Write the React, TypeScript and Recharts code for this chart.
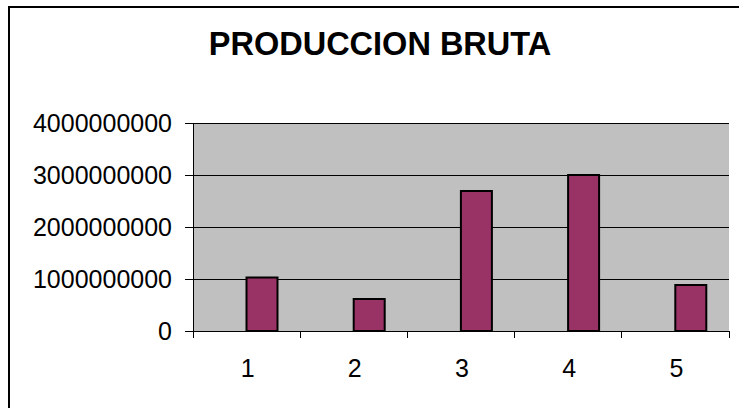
import React from "react";
import { BarChart, Bar, XAxis, YAxis, CartesianGrid, Rectangle } from "recharts";

const categories = ["1", "2", "3", "4", "5"];
const produccion = [1030000000, 615000000, 2690000000, 3000000000, 885000000];
const yTicks = [0, 1000000000, 2000000000, 3000000000, 4000000000];

const data = categories.map((c, i) => ({ name: c, valor: produccion[i] }));

const FONT = "'Liberation Sans', Arial, sans-serif";
const BAND = (729 - 193) / categories.length; // width of one category

// ticks sit between categories, labels in the middle
const XTick = (props: any) => {
  const { x, y, payload, index } = props;
  const left = x - BAND / 2;
  return (
    <g shapeRendering="crispEdges">
      <line x1={left} x2={left} y1={y} y2={y + 7} stroke="#000" />
      {index === categories.length - 1 && (
        <line x1={x + BAND / 2} x2={x + BAND / 2} y1={y} y2={y + 7} stroke="#000" />
      )}
      <text x={x + 1} y={y + 46} textAnchor="middle" fontSize={25} fontFamily={FONT} fill="#000">
        {payload.value}
      </text>
    </g>
  );
};

// excel style: bar starts at the category centre
const ShiftedBar = (props: any) => <Rectangle {...props} x={props.x + props.width / 2} />;

const App = () => {
  return (
    <div style={{ position: "absolute", left: 0, top: 0, width: 739, height: 408, background: "#fff", overflow: "hidden" }}>
      <BarChart
        width={739}
        height={408}
        data={data}
        margin={{ top: 123, right: 10, bottom: 47, left: 0 }}
      >
        <CartesianGrid vertical={false} stroke="#000" fill="#C0C0C0" fillOpacity={1} shapeRendering="crispEdges" />
        <XAxis
          dataKey="name"
          height={30}
          axisLine={{ stroke: "#000", shapeRendering: "crispEdges" }}
          tickLine={false}
          tickSize={0}
          tickMargin={0}
          tick={<XTick />}
          interval={0}
        />
        <XAxis xAxisId="top" dataKey="name" orientation="top" height={0} tick={false} tickLine={false} axisLine={{ stroke: "#808080", shapeRendering: "crispEdges" }} />
        <YAxis
          width={193}
          domain={[0, 4000000000]}
          ticks={yTicks}
          interval={0}
          tickSize={8}
          tickMargin={13}
          axisLine={{ stroke: "#000", shapeRendering: "crispEdges" }}
          tickLine={{ stroke: "#000", shapeRendering: "crispEdges" }}
          tick={{ fill: "#000", fontSize: 25, fontFamily: FONT }}
        />
        <YAxis yAxisId="right" orientation="right" width={0} domain={[0, 4000000000]} tick={false} tickLine={false} axisLine={{ stroke: "#808080", shapeRendering: "crispEdges" }} />
        <Bar
          dataKey="valor"
          fill="#993366"
          stroke="#000"
          strokeWidth={2}
          barSize={31}
          shape={<ShiftedBar />}
          isAnimationActive={false}
        />
      </BarChart>
      <svg width={739} height={408} style={{ position: "absolute", left: 0, top: 0, pointerEvents: "none" }}>
        <line x1={8} x2={739} y1={7} y2={7} stroke="#000" strokeWidth={2} />
        <line x1={9} x2={9} y1={6} y2={408} stroke="#000" strokeWidth={2} />
        <text x={380} y={55} textAnchor="middle" fontSize={32.5} fontWeight="bold" fontFamily={FONT} fill="#000">
          PRODUCCION BRUTA
        </text>
      </svg>
    </div>
  );
};

export default App;
